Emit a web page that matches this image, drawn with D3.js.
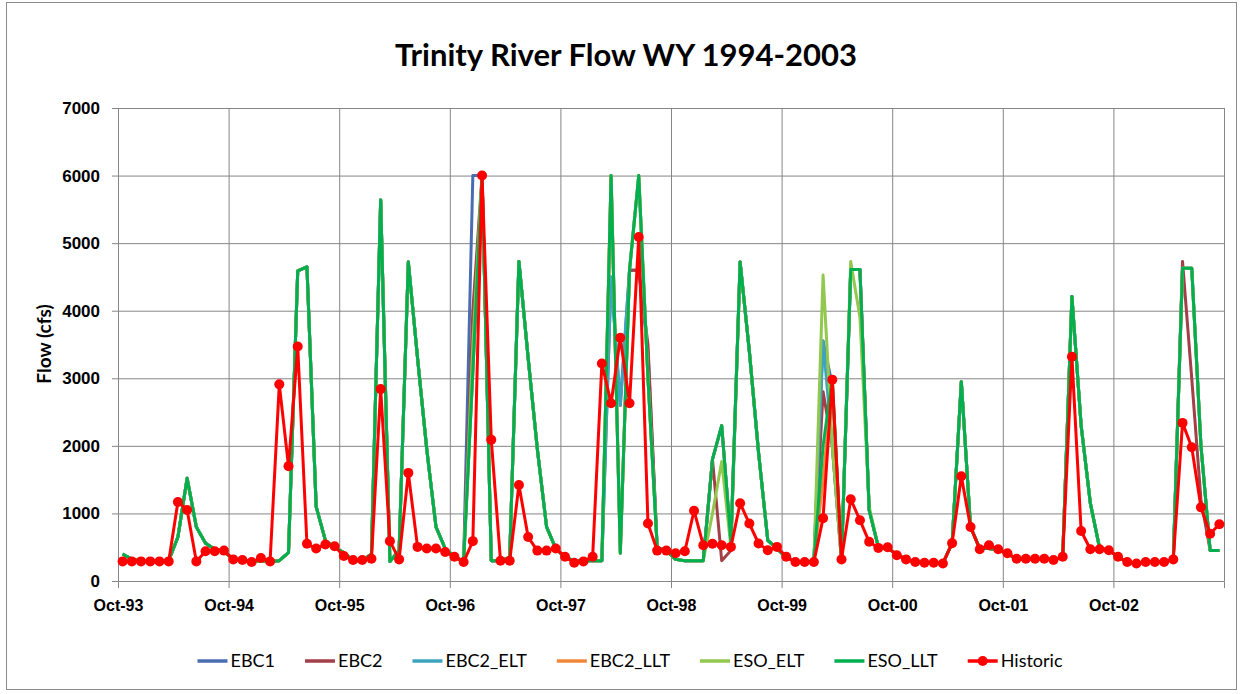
<!DOCTYPE html>
<html>
<head>
<meta charset="utf-8">
<script src="https://cdn.jsdelivr.net/npm/d3@7"></script>
<style>
  body { margin: 0; background: #fff; }
  svg { display: block; font-family: Lato, "Open Sans", sans-serif; }
</style>
</head>
<body>
<div id="chart"></div>
<script>
const title = 'Trinity River Flow WY 1994-2003';
const yLabel = 'Flow (cfs)';
const tickLabels = ['Oct-93', 'Oct-94', 'Oct-95', 'Oct-96', 'Oct-97', 'Oct-98', 'Oct-99', 'Oct-00', 'Oct-01', 'Oct-02'];
const yTicks = [0, 1000, 2000, 3000, 4000, 5000, 6000, 7000];
const seriesNames = ['EBC1', 'EBC2', 'EBC2_ELT', 'EBC2_LLT', 'ESO_ELT', 'ESO_LLT', 'Historic'];
const seriesColors = ['#4a6db2', '#a23f47', '#3ea3bf', '#f0883a', '#92c84e', '#00b050', '#ff0000'];

// monthly flows, one row per water year (Oct..Sep)
const ebc1 = [
  400, 320, 300, 300, 300, 300, 650, 1520, 800, 560, 470, 440,
  320, 300, 290, 300, 290, 300, 420, 4590, 4650, 1100, 600, 500,
  420, 300, 300, 400, 5640, 290, 450, 4720, 3300, 1950, 800, 480,
  360, 290, 6000, 6000, 300, 300, 350, 4730, 3300, 1950, 800, 480,
  350, 300, 300, 300, 300, 4500, 2600, 4600, 4600, 3400, 500, 450,
  320, 300, 300, 300, 1800, 2300, 580, 4720, 3400, 1900, 600, 480,
  350, 290, 290, 290, 3550, 2900, 300, 4610, 4610, 1050, 500, 480,
  400, 320, 280, 270, 270, 260, 560, 2950, 800, 480, 480, 460,
  400, 330, 330, 330, 330, 310, 360, 4210, 2300, 1150, 490, 455,
  360, 280, 260, 280, 280, 280, 320, 4630, 4630, 2000, 450, 450
];
const ebc2 = [
  400, 320, 300, 300, 300, 300, 650, 1520, 800, 560, 470, 440,
  320, 300, 290, 300, 290, 300, 420, 4590, 4650, 1100, 600, 500,
  420, 300, 300, 400, 5640, 290, 450, 4720, 3300, 1950, 800, 480,
  360, 290, 4000, 6000, 300, 300, 350, 4730, 3300, 1950, 800, 480,
  350, 300, 300, 300, 300, 6000, 410, 4600, 4600, 3500, 500, 450,
  320, 300, 300, 300, 1800, 300, 450, 4720, 3400, 1900, 600, 480,
  350, 290, 290, 290, 2800, 2000, 300, 4610, 4610, 1050, 500, 480,
  400, 320, 280, 270, 270, 260, 560, 2950, 800, 480, 480, 460,
  400, 330, 330, 330, 330, 310, 360, 4210, 2300, 1150, 490, 455,
  360, 280, 260, 280, 280, 280, 320, 4730, 3000, 1200, 450, 450
];
const ebc2Elt = [
  400, 320, 300, 300, 300, 300, 650, 1520, 800, 560, 470, 440,
  320, 300, 290, 300, 290, 300, 420, 4590, 4650, 1100, 600, 500,
  420, 300, 300, 400, 5640, 290, 450, 4720, 3300, 1950, 800, 480,
  360, 290, 3100, 6000, 300, 300, 350, 4730, 3300, 1950, 800, 480,
  350, 300, 300, 300, 300, 4500, 2600, 4600, 6000, 3000, 500, 450,
  320, 300, 300, 300, 1800, 2300, 580, 4720, 3400, 1900, 600, 480,
  350, 290, 290, 290, 3550, 2000, 300, 4610, 4610, 1050, 500, 480,
  400, 320, 280, 270, 270, 260, 560, 2950, 800, 480, 480, 460,
  400, 330, 330, 330, 330, 310, 360, 4210, 2300, 1150, 490, 455,
  360, 280, 260, 280, 280, 280, 320, 4630, 4630, 2000, 450, 450
];
const ebc2Llt = [
  400, 320, 300, 300, 300, 300, 650, 1520, 800, 560, 470, 440,
  320, 300, 290, 300, 290, 300, 420, 4590, 4650, 1100, 600, 500,
  420, 300, 300, 400, 5640, 290, 450, 4720, 3300, 1950, 800, 480,
  360, 290, 3100, 6000, 300, 300, 350, 4730, 3300, 1950, 800, 480,
  350, 300, 300, 300, 300, 6000, 410, 4600, 6000, 3000, 500, 450,
  320, 300, 300, 300, 1800, 2300, 580, 4720, 3400, 1900, 600, 480,
  350, 290, 290, 290, 1500, 2980, 300, 4610, 4610, 1050, 500, 480,
  400, 320, 280, 270, 270, 260, 560, 2950, 800, 480, 480, 460,
  400, 330, 330, 330, 330, 310, 360, 4210, 2300, 1150, 490, 455,
  360, 280, 260, 280, 280, 280, 320, 4630, 4630, 2000, 450, 450
];
const esoElt = [
  400, 320, 300, 300, 300, 300, 650, 1520, 800, 560, 470, 440,
  320, 300, 290, 300, 290, 300, 420, 4590, 4650, 1100, 600, 500,
  420, 300, 300, 400, 5640, 290, 450, 4720, 3300, 1950, 800, 480,
  360, 290, 3500, 6000, 300, 300, 350, 4730, 3300, 1950, 800, 480,
  350, 300, 300, 300, 300, 6000, 410, 4600, 6000, 3000, 500, 450,
  320, 300, 300, 300, 1000, 1770, 500, 4720, 3400, 1900, 600, 480,
  350, 290, 290, 290, 4530, 2000, 300, 4730, 3900, 1100, 500, 480,
  400, 320, 280, 270, 270, 260, 560, 2950, 800, 480, 480, 460,
  400, 330, 330, 330, 330, 310, 360, 4210, 2300, 1150, 490, 455,
  360, 280, 260, 280, 280, 280, 320, 4630, 4630, 2000, 450, 450
];
const esoLlt = [
  400, 320, 300, 300, 300, 300, 650, 1520, 800, 560, 470, 440,
  320, 300, 290, 300, 290, 300, 420, 4590, 4650, 1100, 600, 500,
  420, 300, 300, 400, 5640, 290, 450, 4720, 3300, 1950, 800, 480,
  360, 290, 3100, 6000, 300, 300, 350, 4730, 3300, 1950, 800, 480,
  350, 300, 300, 300, 300, 6000, 410, 4600, 6000, 3000, 500, 450,
  320, 300, 300, 300, 1800, 2300, 580, 4720, 3400, 1900, 600, 480,
  350, 290, 290, 290, 2000, 3000, 300, 4610, 4610, 1050, 500, 480,
  400, 320, 280, 270, 270, 260, 560, 2950, 800, 480, 480, 460,
  400, 330, 330, 330, 330, 310, 360, 4210, 2300, 1150, 490, 455,
  360, 280, 260, 280, 280, 280, 320, 4630, 4630, 2000, 450, 450
];
const historic = [
  290, 290, 290, 290, 290, 290, 1170, 1050, 290, 440, 440, 450,
  320, 310, 280, 340, 290, 2910, 1700, 3470, 550, 480, 540, 515,
  370, 310, 310, 330, 2840, 590, 320, 1600, 505, 480, 480, 430,
  360, 280, 590, 6000, 2090, 300, 300, 1420, 650, 450, 450, 480,
  360, 270, 290, 360, 3220, 2630, 3600, 2630, 5090, 850, 450, 450,
  410, 440, 1040, 530, 550, 530, 505, 1150, 850, 555, 455, 505,
  360, 280, 280, 280, 930, 2980, 320, 1210, 900, 580, 490, 500,
  380, 320, 280, 270, 270, 260, 560, 1550, 800, 470, 530, 470,
  410, 330, 330, 330, 330, 310, 360, 3320, 740, 470, 470, 455,
  360, 280, 260, 280, 280, 280, 320, 2340, 1980, 1090, 700, 840
];
const seriesValues = [ebc1, ebc2, ebc2Elt, ebc2Llt, esoElt, esoLlt, historic];

const W = 1242, H = 694;
const plot = { left: 118, right: 1224, top: 108, bottom: 581 };

// one category per month, Oct-93 .. Sep-03
const months = d3.timeMonth.range(new Date(1993, 9, 1), new Date(2003, 9, 1));

const svg = d3.select('#chart').append('svg')
  .attr('width', W)
  .attr('height', H);

svg.append('rect')
  .attr('x', 6.5).attr('y', 2.5)
  .attr('width', 1230).attr('height', 687)
  .attr('fill', '#fff')
  .attr('stroke', '#8c8c8c');

const x = d3.scaleBand()
  .domain(months)
  .range([plot.left, plot.right])
  .padding(0);
// boundaries between months, used for gridlines and ticks
const xEdge = d3.scaleLinear()
  .domain([0, months.length])
  .range([plot.left, plot.right]);
const y = d3.scaleLinear()
  .domain([0, 7000])
  .range([plot.bottom, plot.top]);

const gridColor = '#868686';

// horizontal grid
svg.append('g')
  .attr('transform', `translate(${plot.left},0)`)
  .call(d3.axisLeft(y).tickValues(yTicks).tickSize(-(plot.right - plot.left)).tickFormat(''))
  .call(g => g.select('.domain').remove())
  .selectAll('line').attr('stroke', gridColor);

// vertical grid, one line per water year
const yearEdges = d3.range(0, months.length + 1, 12);
svg.append('g')
  .attr('transform', `translate(0,${plot.bottom})`)
  .call(d3.axisBottom(xEdge).tickValues(yearEdges).tickSize(-(plot.bottom - plot.top)).tickFormat(''))
  .call(g => g.select('.domain').remove())
  .selectAll('line').attr('stroke', gridColor);

// y axis
svg.append('g')
  .attr('transform', `translate(${plot.left},0)`)
  .call(d3.axisLeft(y).tickValues(yTicks).tickSize(6).tickPadding(12).tickFormat(d3.format('d')))
  .call(g => g.select('.domain').attr('stroke', gridColor))
  .call(g => g.selectAll('line').attr('stroke', gridColor))
  .call(g => g.selectAll('text')
    .attr('fill', '#000')
    .style('font-size', '17px')
    .style('font-weight', 'bold'));

// x axis
svg.append('g')
  .attr('transform', `translate(0,${plot.bottom})`)
  .call(d3.axisBottom(xEdge).tickValues(yearEdges.slice(0, tickLabels.length)).tickSize(7).tickPadding(12)
    .tickFormat((d, i) => tickLabels[i]))
  .call(g => g.select('.domain').attr('stroke', gridColor))
  .call(g => g.selectAll('line').attr('stroke', gridColor))
  .call(g => g.selectAll('text')
    .attr('fill', '#000')
    .style('font-size', '16px')
    .style('font-weight', 'bold'));

svg.append('text')
  .attr('x', 626)
  .attr('y', 66)
  .attr('text-anchor', 'middle')
  .style('font-size', '31px')
  .style('font-weight', 'bold')
  .text(title);

svg.append('text')
  .attr('transform', 'translate(51,344) rotate(-90)')
  .attr('text-anchor', 'middle')
  .style('font-size', '19px')
  .style('font-weight', 'bold')
  .text(yLabel);

const line = d3.line()
  .x((d, i) => x(months[i]) + x.bandwidth() / 2)
  .y(d => y(d));

seriesValues.forEach((vals, k) => {
  svg.append('path')
    .datum(vals)
    .attr('fill', 'none')
    .attr('stroke', seriesColors[k])
    .attr('stroke-width', 3)
    .attr('stroke-linejoin', 'round')
    .attr('d', line);
});

svg.append('g')
  .selectAll('circle')
  .data(historic)
  .join('circle')
    .attr('cx', (d, i) => x(months[i]) + x.bandwidth() / 2)
    .attr('cy', d => y(d))
    .attr('r', 5)
    .attr('fill', seriesColors[6]);

// legend
const legend = svg.append('g').attr('transform', 'translate(0,661)');
const items = legend.selectAll('g')
  .data(seriesNames)
  .join('g');
items.append('line')
  .attr('x1', 0).attr('x2', 30)
  .attr('stroke', (d, i) => seriesColors[i])
  .attr('stroke-width', 3.5);
items.filter(d => d === 'Historic').append('circle')
  .attr('cx', 15).attr('r', 5)
  .attr('fill', seriesColors[6]);
items.append('text')
  .attr('x', 33)
  .attr('dy', '0.35em')
  .style('font-size', '18px')
  .text(d => d);

let offset = 0;
const widths = [];
items.each(function () {
  const w = 33 + this.querySelector('text').getComputedTextLength();
  widths.push(w);
});
const gap = 30;
const total = d3.sum(widths) + gap * (widths.length - 1);
offset = 630 - total / 2;
items.attr('transform', (d, i) => {
  const t = `translate(${offset},0)`;
  offset += widths[i] + gap;
  return t;
});
</script>
</body>
</html>
